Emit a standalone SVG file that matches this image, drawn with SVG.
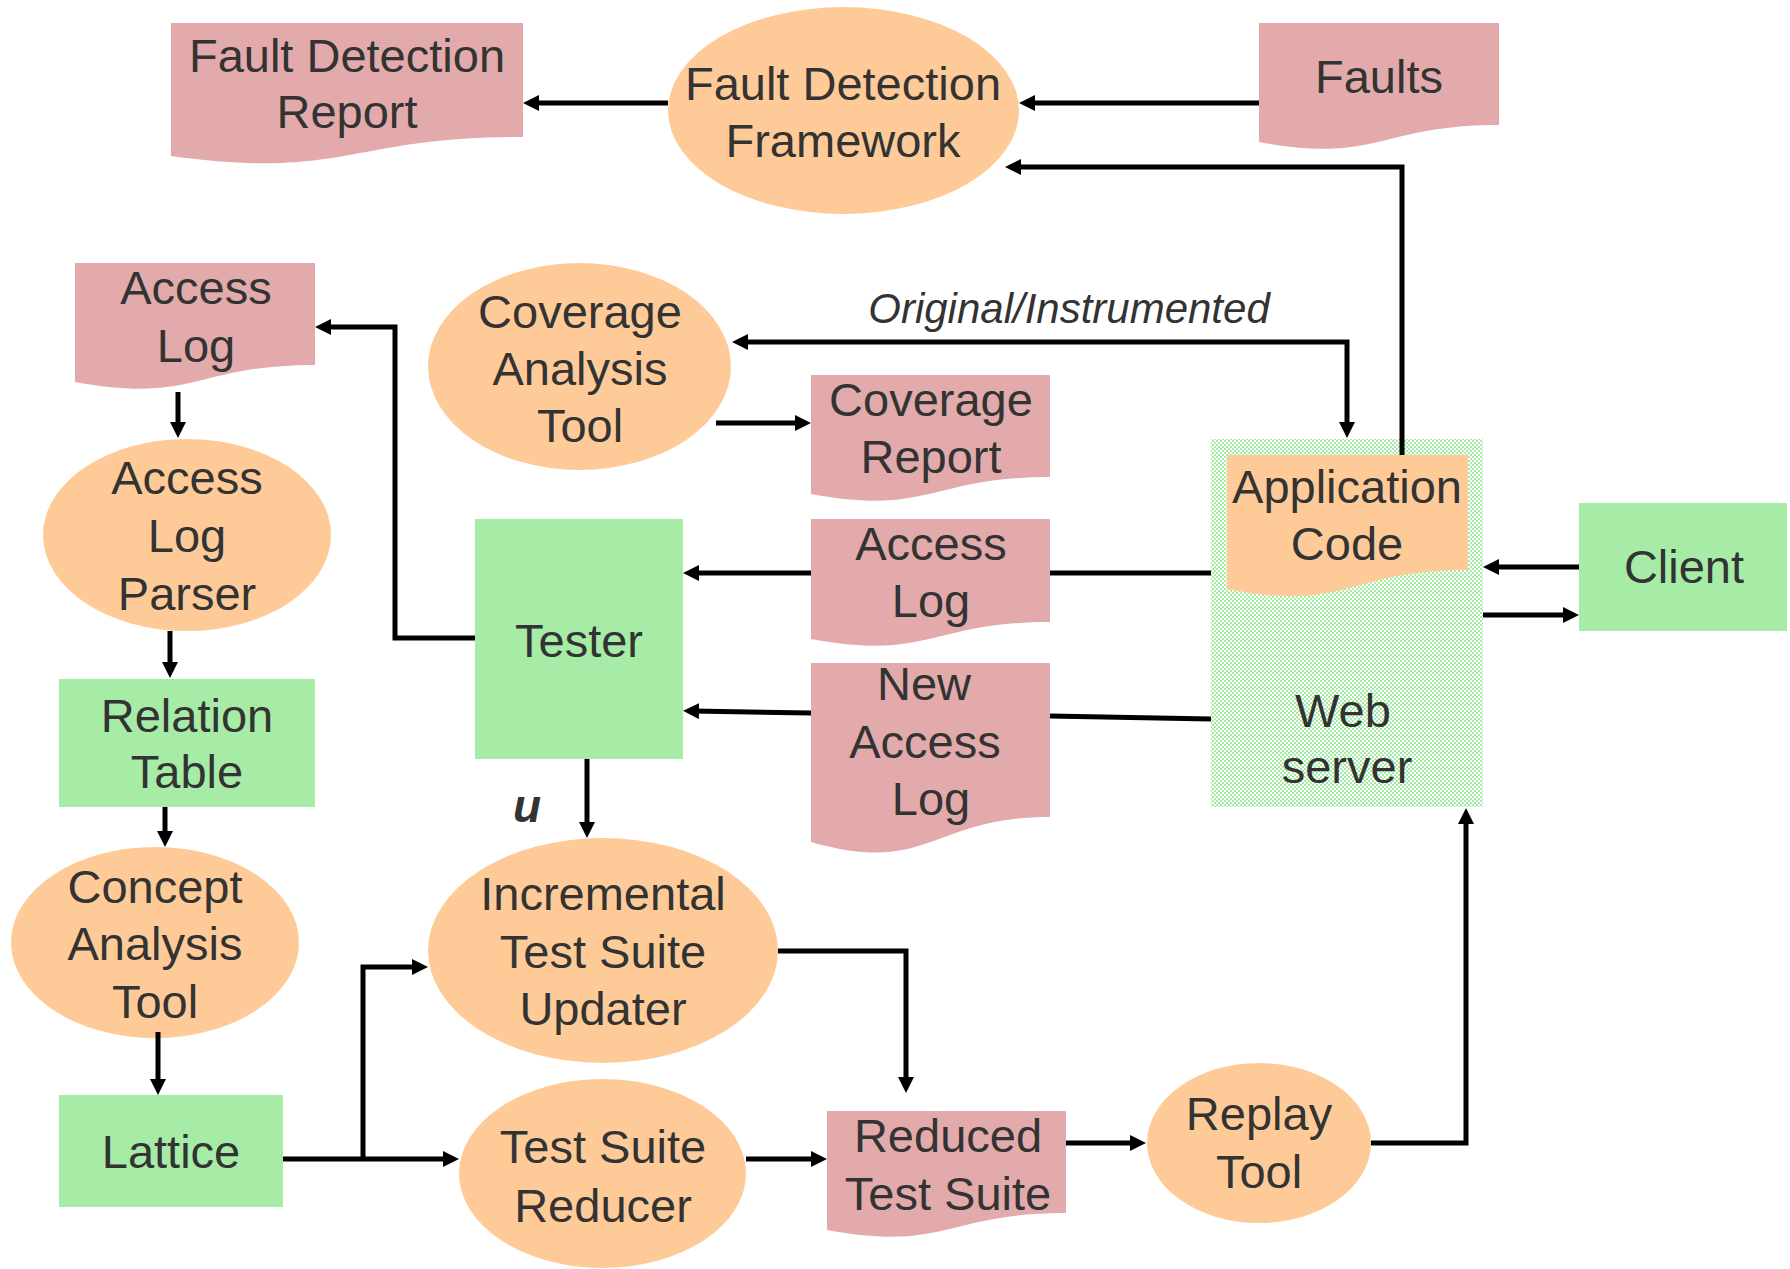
<svg xmlns="http://www.w3.org/2000/svg" width="1790" height="1269" viewBox="0 0 1790 1269">
  <style>
    .doc { fill: #E2AAAB; }
    .proc { fill: #FECB98; }
    .store { fill: #A6ECA6; }
    .lbl { font-family: "Liberation Sans", Arial, sans-serif; font-size: 47px; fill: #333333; text-anchor: middle; }
    .note { font-family: "Liberation Sans", Arial, sans-serif; font-size: 42px; font-style: italic; fill: #333333; text-anchor: middle; }
    .tag { font-family: "Liberation Sans", Arial, sans-serif; font-size: 46px; font-style: italic; font-weight: bold; fill: #333333; }
    .wire { fill: none; stroke: #000000; stroke-width: 5; stroke-linejoin: miter; }
    .arrow { marker-end: url(#head); }
  </style>
  <defs>
    <pattern id="dither" width="4" height="4" patternUnits="userSpaceOnUse">
      <rect width="4" height="4" fill="#FFFFFF"/>
      <rect x="0" y="0" width="2" height="2" fill="#A6ECA6"/>
      <rect x="2" y="2" width="2" height="2" fill="#A6ECA6"/>
    </pattern>
    <marker id="head" viewBox="0 0 16 16" refX="6" refY="8" markerWidth="16" markerHeight="16" markerUnits="userSpaceOnUse" orient="auto-start-reverse">
      <path d="M0,0 L16,8 L0,16 Z" fill="#000000"/>
    </marker>
  </defs>

  <!-- web server container (drawn first so the code document sits on it) -->
  <g id="web-server">
    <rect x="1211" y="439" width="272" height="368" fill="url(#dither)"/>
    <text class="lbl"><tspan x="1343" y="727">Web</tspan><tspan x="1347" y="783">server</tspan></text>
  </g>

  <g id="application-code">
    <path class="proc" d="M1227,455 H1468 V570 C1347,570 1347,613 1227,589 Z"/>
    <text class="lbl"><tspan x="1347" y="503">Application</tspan><tspan x="1347" y="560">Code</tspan></text>
  </g>

  <g id="fault-detection-report">
    <path class="doc" d="M171,23 H523 V137 C347,137 347,180 171,156 Z"/>
    <text class="lbl"><tspan x="347" y="72">Fault Detection</tspan><tspan x="347" y="128">Report</tspan></text>
  </g>

  <g id="fault-detection-framework">
    <ellipse class="proc" cx="843.5" cy="110.5" rx="175.5" ry="103.5"/>
    <text class="lbl"><tspan x="843" y="100">Fault Detection</tspan><tspan x="843" y="157">Framework</tspan></text>
  </g>

  <g id="faults">
    <path class="doc" d="M1259,23 H1499 V125 C1379,125 1379,164 1259,142 Z"/>
    <text class="lbl" x="1379" y="93">Faults</text>
  </g>

  <g id="access-log-top">
    <path class="doc" d="M75,263 H315 V365 C195,365 195,404 75,382 Z"/>
    <text class="lbl"><tspan x="196" y="304">Access</tspan><tspan x="196" y="362">Log</tspan></text>
  </g>

  <g id="coverage-analysis-tool">
    <ellipse class="proc" cx="579.5" cy="366.5" rx="151.5" ry="103.5"/>
    <text class="lbl"><tspan x="580" y="328">Coverage</tspan><tspan x="580" y="385">Analysis</tspan><tspan x="580" y="442">Tool</tspan></text>
  </g>

  <g id="coverage-report">
    <path class="doc" d="M811,375 H1050 V477 C930,477 930,516 811,494 Z"/>
    <text class="lbl"><tspan x="931" y="416">Coverage</tspan><tspan x="931" y="473">Report</tspan></text>
  </g>

  <g id="access-log-parser">
    <ellipse class="proc" cx="187" cy="535" rx="144" ry="96"/>
    <text class="lbl"><tspan x="187" y="494">Access</tspan><tspan x="187" y="552">Log</tspan><tspan x="187" y="610">Parser</tspan></text>
  </g>

  <g id="relation-table">
    <rect class="store" x="59" y="679" width="256" height="128"/>
    <text class="lbl"><tspan x="187" y="732">Relation</tspan><tspan x="187" y="788">Table</tspan></text>
  </g>

  <g id="tester">
    <rect class="store" x="475" y="519" width="208" height="240"/>
    <text class="lbl" x="579" y="657">Tester</text>
  </g>

  <g id="access-log-middle">
    <path class="doc" d="M811,519 H1050 V622 C930,622 930,661 811,639 Z"/>
    <text class="lbl"><tspan x="931" y="560">Access</tspan><tspan x="931" y="617">Log</tspan></text>
  </g>

  <g id="new-access-log">
    <path class="doc" d="M811,663 H1050 V817 C930,817 930,876 811,842 Z"/>
    <text class="lbl"><tspan x="924" y="700">New</tspan><tspan x="925" y="758">Access</tspan><tspan x="931" y="815">Log</tspan></text>
  </g>

  <g id="client">
    <rect class="store" x="1579" y="503" width="208" height="128"/>
    <text class="lbl" x="1684" y="583">Client</text>
  </g>

  <g id="concept-analysis-tool">
    <ellipse class="proc" cx="155" cy="942.5" rx="144" ry="95.5"/>
    <text class="lbl"><tspan x="155" y="903">Concept</tspan><tspan x="155" y="960">Analysis</tspan><tspan x="155" y="1018">Tool</tspan></text>
  </g>

  <g id="lattice">
    <rect class="store" x="59" y="1095" width="224" height="112"/>
    <text class="lbl" x="171" y="1168">Lattice</text>
  </g>

  <g id="incremental-updater">
    <ellipse class="proc" cx="603" cy="950.5" rx="175" ry="112.5"/>
    <text class="lbl"><tspan x="603" y="910">Incremental</tspan><tspan x="603" y="968">Test Suite</tspan><tspan x="603" y="1025">Updater</tspan></text>
  </g>

  <g id="test-suite-reducer">
    <ellipse class="proc" cx="602.5" cy="1173.5" rx="143.5" ry="94.5"/>
    <text class="lbl"><tspan x="603" y="1163">Test Suite</tspan><tspan x="603" y="1222">Reducer</tspan></text>
  </g>

  <g id="reduced-test-suite">
    <path class="doc" d="M827,1111 H1066 V1213 C946,1213 946,1252 827,1230 Z"/>
    <text class="lbl"><tspan x="948" y="1152">Reduced</tspan><tspan x="948" y="1210">Test Suite</tspan></text>
  </g>

  <g id="replay-tool">
    <ellipse class="proc" cx="1259" cy="1143" rx="112" ry="80"/>
    <text class="lbl"><tspan x="1259" y="1130">Replay</tspan><tspan x="1259" y="1188">Tool</tspan></text>
  </g>

  <!-- connectors -->
  <g id="connectors">
    <path class="wire arrow" d="M668,103 H533"/>
    <path class="wire arrow" d="M1259,103 H1029"/>
    <path class="wire arrow" d="M1402,455 V167 H1015"/>
    <path class="wire arrow" d="M742,342 H1347 V428" marker-start="url(#head)"/>
    <path class="wire arrow" d="M716,423 H801"/>
    <path class="wire arrow" d="M475,638 H395 V327 H325"/>
    <path class="wire arrow" d="M178,392 V428"/>
    <path class="wire arrow" d="M170,631 V668"/>
    <path class="wire arrow" d="M165,807 V837"/>
    <path class="wire arrow" d="M158,1032 V1085"/>
    <path class="wire arrow" d="M283,1159 H449"/>
    <path class="wire arrow" d="M363,1159 V967 H418"/>
    <path class="wire arrow" d="M811,573 H693"/>
    <path class="wire arrow" d="M811,713 L693,711"/>
    <path class="wire" d="M1050,573 H1211"/>
    <path class="wire" d="M1050,716 L1211,719"/>
    <path class="wire arrow" d="M1579,567 H1493"/>
    <path class="wire arrow" d="M1483,615 H1569"/>
    <path class="wire arrow" d="M587,759 V828"/>
    <path class="wire arrow" d="M778,951 H906 V1083"/>
    <path class="wire arrow" d="M746,1159 H817"/>
    <path class="wire arrow" d="M1066,1143 H1136"/>
    <path class="wire arrow" d="M1371,1143 H1466 V818"/>
  </g>

  <g id="labels">
    <text class="note" x="1069" y="323">Original/Instrumented</text>
    <text class="tag" x="513" y="822">u</text>
  </g>
</svg>
